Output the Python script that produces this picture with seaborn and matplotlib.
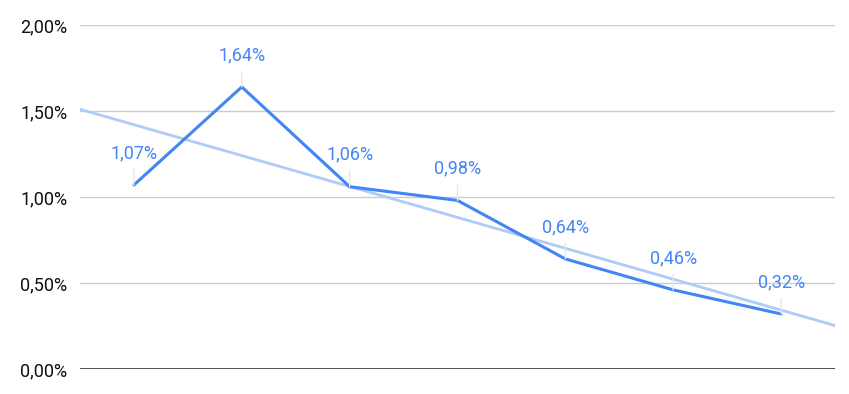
import numpy as np
import pandas as pd
import matplotlib
matplotlib.use("Agg")
import matplotlib.pyplot as plt
import seaborn as sns

# valeurs (en %)
positions = [0, 1, 2, 3, 4, 5, 6]
valeurs = [1.07, 1.64, 1.06, 0.98, 0.64, 0.46, 0.32]
etiquettes = ["1,07%", "1,64%", "1,06%", "0,98%", "0,64%", "0,46%", "0,32%"]
ticks_y = [0.0, 0.5, 1.0, 1.5, 2.0]
ticks_y_labels = ["0,00%", "0,50%", "1,00%", "1,50%", "2,00%"]

sns.set_style("white")
plt.rcParams['font.family'] = ['Roboto', 'DejaVu Sans']

bleu = "#4285F4"
bleu_clair = "#AECBFA"

df = pd.DataFrame({'x': positions, 'y': valeurs})

fig = plt.figure(figsize=(8.49, 3.94), dpi=100)
ax = fig.add_axes([80 / 849, 25 / 394, 755 / 849, 344 / 394])

# grille horizontale
for t in ticks_y[1:]:
    ax.axhline(t, color="#cccccc", lw=1, zorder=0)
ax.axhline(0, color="#333333", lw=1.2, zorder=1)

# ligne de tendance (régression linéaire) sur toute la largeur
pente, origine = np.polyfit(positions, valeurs, 1)
xt = np.array([-0.5, 6.5])
ax.plot(xt, pente * xt + origine, color=bleu_clair, lw=2, zorder=2)

# série principale
sns.lineplot(data=df, x='x', y='y', ax=ax, color=bleu, lw=2.2, zorder=3)

# étiquettes de données avec petit trait
for x, v, lab in zip(positions, valeurs, etiquettes):
    ax.annotate(lab, xy=(x, v), xytext=(0, 23), textcoords='offset points',
                ha='center', va='center', color=bleu, fontsize=13,
                arrowprops=dict(arrowstyle='-', color='#e6e6e6', lw=1,
                                shrinkA=3, shrinkB=0), zorder=4)

ax.set_xlim(-0.5, 6.5)
ax.set_ylim(0, 2.0)
ax.set_yticks(ticks_y)
ax.set_yticklabels(ticks_y_labels, fontsize=13, color="#111111")
ax.set_xticks([])
ax.set_xlabel("")
ax.set_ylabel("")
ax.tick_params(axis='y', length=0, pad=9)
for s in ax.spines.values():
    s.set_visible(False)

fig.savefig("out.png", dpi=100)
